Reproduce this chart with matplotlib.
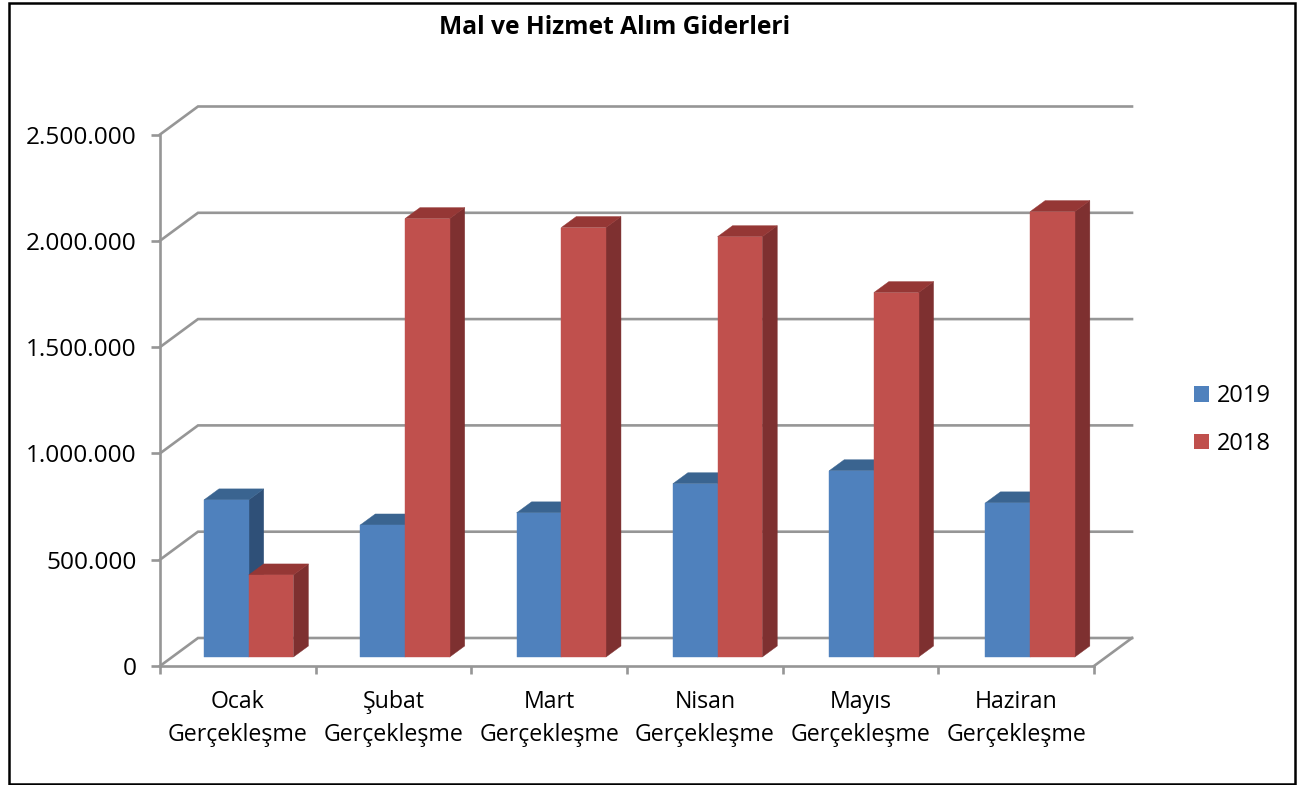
import matplotlib
matplotlib.use('Agg')
import matplotlib.pyplot as plt
from matplotlib.patches import Polygon, Rectangle, Patch

plt.rcParams['font.family'] = ['Open Sans', 'DejaVu Sans']

#values
months = ['Ocak', 'Şubat', 'Mart', 'Nisan', 'Mayıs', 'Haziran']
values_2019 = [739000, 621000, 678000, 815000, 876000, 725000]
values_2018 = [386000, 2062000, 2020000, 1977000, 1714000, 2095000]
y_ticks = [0, 500000, 1000000, 1500000, 2000000, 2500000]
y_labels = ['0', '500.000', '1.000.000', '1.500.000', '2.000.000', '2.500.000']

W, H = 1312, 785
fig = plt.figure(figsize=(W / 100, H / 100), dpi=100, facecolor='white')

#plot area, x in categories and y in TL
left, right, top, bottom = 160, 1094, 134.5, 666
ax = fig.add_axes([left / W, 1 - bottom / H, (right - left) / W, (bottom - top) / H])
ax.set_xlim(0, 6)
ax.set_ylim(0, 2500000)
ax.patch.set_visible(False)

#pixel sizes turned into data units
px_x = 6 / (right - left)
px_y = 2500000 / (bottom - top)
wall_dx, wall_dy = 38 * px_x, 28 * px_y
bar_dx, bar_dy = 15 * px_x, 11 * px_y
base = 9 * px_y
bar_w = 44.7 * px_x
bar_start = 44 * px_x
bar_step = 1.004

grid = '#969696'
for s in ['top', 'right']:
    ax.spines[s].set_visible(False)
for s in ['left', 'bottom']:
    ax.spines[s].set_color(grid)
    ax.spines[s].set_linewidth(1.9)

#back wall lines
for v in y_ticks:
    ax.plot([0, wall_dx, 6 + wall_dx], [v, v + wall_dy, v + wall_dy], color=grid, lw=1.9,
            clip_on=False, solid_joinstyle='miter', zorder=1)
ax.plot([6, 6 + wall_dx], [0, wall_dy], color=grid, lw=1.9, clip_on=False, zorder=1)


def draw_bar(x, value, front, roof, side):
    y0, y1 = base, base + value
    w = bar_w
    ax.add_patch(Polygon([(x + w, y0), (x + w + bar_dx, y0 + bar_dy), (x + w + bar_dx, y1 + bar_dy), (x + w, y1)],
                         fc=side, ec=side, lw=0.3, clip_on=False, zorder=3))
    ax.add_patch(Polygon([(x, y1), (x + bar_dx, y1 + bar_dy), (x + w + bar_dx, y1 + bar_dy), (x + w, y1)],
                         fc=roof, ec=roof, lw=0.3, clip_on=False, zorder=3))
    ax.add_patch(Rectangle((x, y0), w, value, fc=front, ec=front, lw=0.3, clip_on=False, zorder=3))


#blue first, red goes over its side
for i in range(len(months)):
    x = bar_start + i * bar_step
    draw_bar(x, values_2019[i], '#4f81bd', '#3a6490', '#2f5078')
    draw_bar(x + bar_w, values_2018[i], '#c0504d', '#953735', '#7e3030')

#ticks
ax.set_yticks(y_ticks)
ax.set_yticklabels(y_labels)
ax.set_xticks(range(7))
ax.set_xticklabels([])
ax.set_xticks([i + 0.5 for i in range(6)], minor=True)
ax.set_xticklabels([m + '\nGerçekleşme' for m in months], minor=True)
ax.tick_params(axis='y', length=6.5, width=1.9, color=grid, labelsize=17.6, pad=10.5)
ax.tick_params(axis='x', which='major', length=6, width=1.9, color=grid)
ax.tick_params(axis='x', which='minor', length=0, labelsize=16.7, pad=17)
for t in ax.get_xticklabels(minor=True):
    t.set_linespacing(1.5)

fig.text(615 / W, 1 - 28 / H, 'Mal ve Hizmet Alım Giderleri', ha='center', va='center',
         fontsize=17.7, fontweight='bold', color='black')

handles = [Patch(fc='#4f81bd', label='2019'), Patch(fc='#c0504d', label='2018')]
fig.legend(handles=handles, loc='center left', bbox_to_anchor=(1187 / W, 1 - 420 / H), frameon=False,
           fontsize=17, handlelength=0.63, handleheight=0.63, handletextpad=0.32, labelspacing=0.98,
           borderpad=0.3, borderaxespad=0)

#black outer frame
fig.add_artist(Rectangle((8.5 / W, 1 - 784 / H), (1295 - 8.5) / W, (784 - 3) / H, transform=fig.transFigure,
                         fill=False, ec='black', lw=1.8))

plt.savefig('out.png', dpi=100)
